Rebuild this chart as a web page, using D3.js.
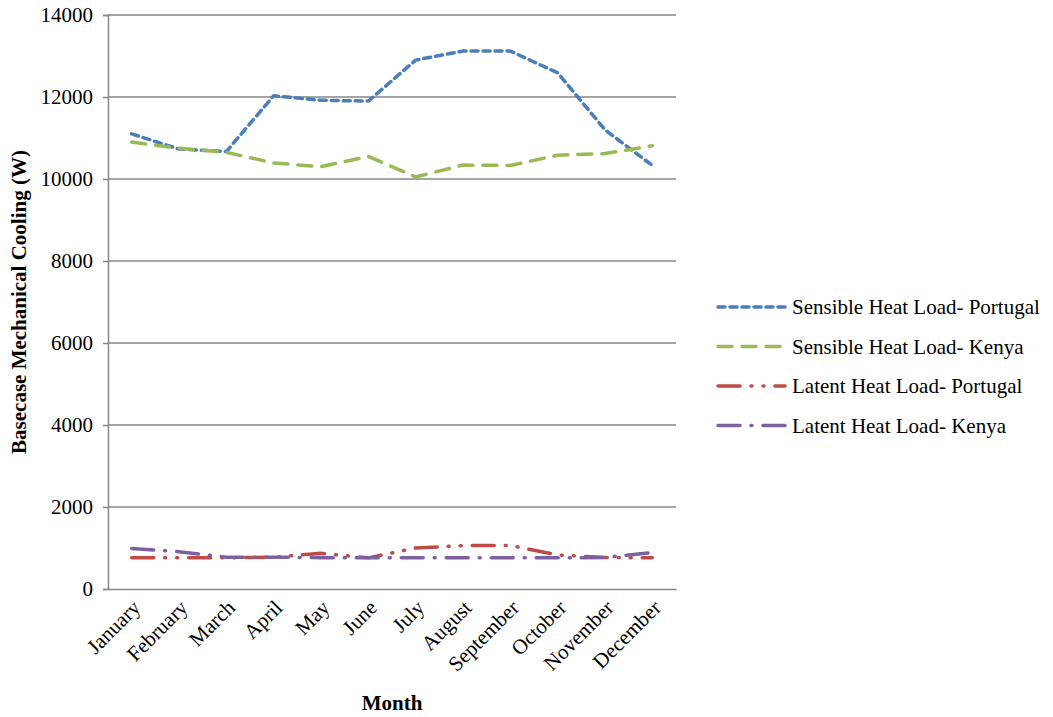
<!DOCTYPE html>
<html><head><meta charset="utf-8">
<script src="https://cdn.jsdelivr.net/npm/d3@7"></script>
<style>body{margin:0;background:#fff}svg{display:block}text{font-family:"Liberation Serif","Times New Roman",serif}</style>
</head><body>
<script>
const months = ["January","February","March","April","May","June","July","August","September","October","November","December"];
const sensiblePortugal = [11100,10730,10670,12030,11920,11900,12900,13120,13120,12590,11200,10330];
const sensibleKenya = [10900,10750,10650,10390,10300,10550,10050,10340,10330,10580,10620,10810];
const latentPortugal = [760,760,760,775,870,760,1000,1060,1060,830,770,760];
const latentKenya = [990,910,775,775,765,760,760,760,760,760,770,890];
const seriesNames = ["Sensible Heat Load- Portugal","Sensible Heat Load- Kenya","Latent Heat Load- Portugal","Latent Heat Load- Kenya"];
const yTicks = [0,2000,4000,6000,8000,10000,12000,14000];

const W=1053,H=717;
const m={left:108,right:676,top:15,bottom:589};
const FS=21;
const svg=d3.select("body").append("svg").attr("width",W).attr("height",H);
const x=d3.scaleBand().domain(months).range([m.left,m.right]);
const y=d3.scaleLinear().domain([0,14000]).range([m.bottom,m.top]);

svg.append("g").selectAll("line").data(yTicks.filter(d=>d>0)).join("line")
  .attr("x1",m.left).attr("x2",m.right).attr("y1",d=>y(d)).attr("y2",d=>y(d))
  .attr("stroke","#868686").attr("stroke-width",1.5);

const ya=svg.append("g").attr("transform",`translate(${m.left},0)`)
  .call(d3.axisLeft(y).tickValues(yTicks).tickSize(5).tickPadding(10).tickFormat(d3.format("d")));
ya.select(".domain").attr("stroke","#868686").attr("stroke-width",1.5);
ya.selectAll(".tick line").attr("stroke","#868686").attr("stroke-width",1.5);
ya.selectAll(".tick text").attr("font-size",FS).attr("fill","#000").attr("font-family","Liberation Serif");

const xa=svg.append("g").attr("transform",`translate(0,${m.bottom})`)
  .call(d3.axisBottom(x).tickSize(0).tickPadding(0));
xa.select(".domain").attr("stroke","#868686").attr("stroke-width",1.5);
xa.selectAll(".tick text").attr("font-size",FS).attr("fill","#000").attr("font-family","Liberation Serif")
  .attr("text-anchor","end").attr("dy",0).attr("y",0)
  .attr("transform","translate(10,20) rotate(-45)");

svg.append("text").attr("x",392).attr("y",710).attr("text-anchor","middle")
  .attr("font-size",FS).attr("font-weight","bold").text("Month");
svg.append("text").attr("transform","translate(26,302) rotate(-90)").attr("text-anchor","middle")
  .attr("font-size",FS).attr("font-weight","bold").text("Basecase Mechanical Cooling (W)");

const series=[
  {name:seriesNames[0],values:sensiblePortugal,color:"#4a7ebb",dash:"7,5"},
  {name:seriesNames[1],values:sensibleKenya,color:"#98b954",dash:"14,10"},
  {name:seriesNames[2],values:latentPortugal,color:"#be4b48",dash:"22,11,1,11,1,11"},
  {name:seriesNames[3],values:latentKenya,color:"#7d60a0",dash:"22,11,1,11"}
];
const line=d3.line().x((d,i)=>x(months[i])+x.bandwidth()/2).y(d=>y(d));
svg.append("g").selectAll("path").data(series).join("path")
  .attr("d",d=>line(d.values)).attr("fill","none").attr("stroke",d=>d.color)
  .attr("stroke-width",3.5).attr("stroke-dasharray",d=>d.dash).attr("stroke-linecap","round").attr("stroke-linejoin","round");

const lg=svg.append("g");
series.forEach((s,i)=>{
  const yy=307+i*39.5;
  lg.append("line").attr("x1",718).attr("x2",785).attr("y1",yy).attr("y2",yy)
    .attr("stroke",s.color).attr("stroke-width",3.5).attr("stroke-dasharray",s.dash).attr("stroke-linecap","round");
  lg.append("text").attr("x",792).attr("y",yy+7).attr("font-size",FS).text(s.name);
});
</script>
</body></html>
